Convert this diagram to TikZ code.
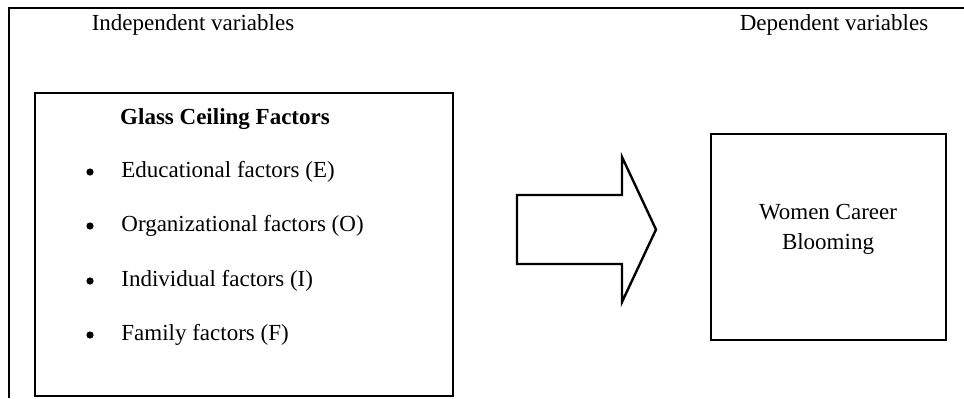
\documentclass[tikz,border=0pt]{standalone}
\usepackage{fontspec}
\setmainfont{Liberation Serif}
\usepackage{xcolor}

\begin{document}
\begin{tikzpicture}[x=0.5pt,y=-0.5pt,
  txt/.style={inner sep=0pt,font=\fontsize{11.5}{15}\selectfont},
  dot/.style={circle,fill=black,inner sep=0pt,minimum size=3.6pt},
  frame/.style={line width=1.2pt}]
\useasboundingbox (0,0) rectangle (964,398);
%\draw[step=50,gray,very thin] (0,0) grid (964,398); %background grid
\draw[frame] (964,8) -- (9,8) -- (9,398);
\node[txt] (indep) at (193,25) {Independent variables};
\node[txt] (dep) at (834,25) {Dependent variables};
% left box
\draw[frame] (35,93) rectangle (453,396);
\node[txt,font=\fontsize{11.5}{15}\selectfont\bfseries] (glass) at (225,119) {Glass Ceiling Factors};
\node[dot] (bE) at (90,172) {};
\node[txt,anchor=west] (itemE) at (121,172) {Educational factors (E)};
\node[dot] (bO) at (90,226) {};
\node[txt,anchor=west] (itemO) at (121,226) {Organizational factors (O)};
\node[dot] (bI) at (90,281) {};
\node[txt,anchor=west] (itemI) at (121,281) {Individual factors (I)};
\node[dot] (bF) at (90,335) {};
\node[txt,anchor=west] (itemF) at (121,335) {Family factors (F)};
% block arrow
\draw[frame,line join=miter] (517,195) -- (622,195) -- (622,157) -- (656,229.5)
  -- (622,302) -- (622,264) -- (517,264) -- cycle;
% right box
\draw[frame] (711,134) rectangle (946,340);
\node[txt,align=center] (women) at (828,229) {Women Career\\Blooming};
\end{tikzpicture}
\end{document}
